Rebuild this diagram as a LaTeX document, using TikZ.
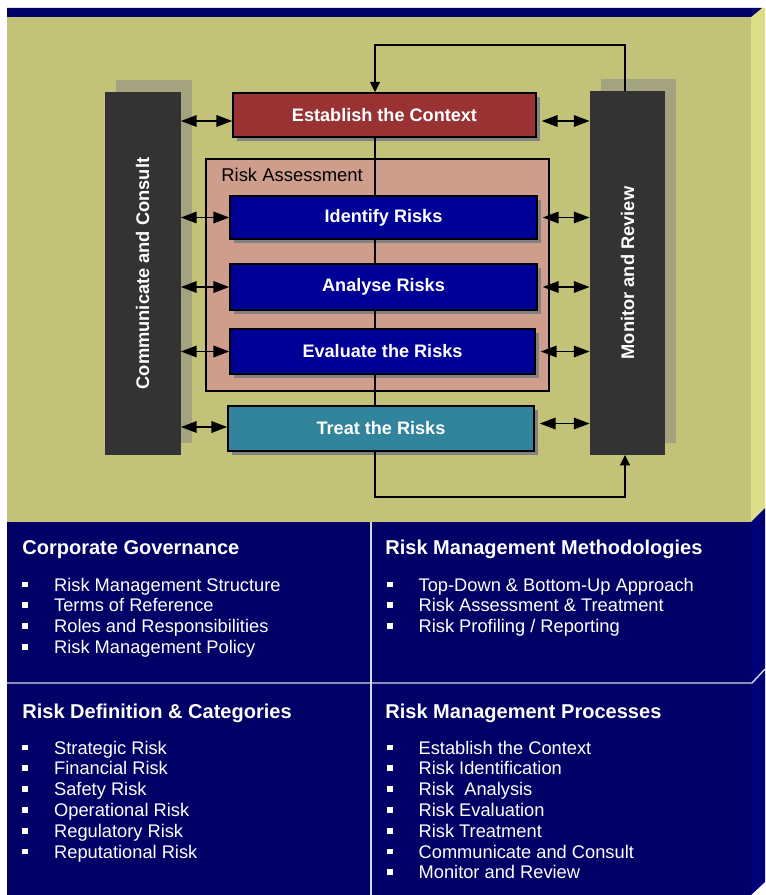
\documentclass[tikz,border=0pt]{standalone}
\usepackage{fontspec}
\setmainfont{Liberation Sans}
\usetikzlibrary{arrows.meta,shadows}
\newlength\pxu \setlength\pxu{0.02cm}
\definecolor{cOlive}{RGB}{194,194,120}
\definecolor{cOliveSide}{RGB}{222,222,136}
\definecolor{cNavy}{RGB}{0,0,102}
\definecolor{cNavySide}{RGB}{0,0,120}
\definecolor{cBar}{RGB}{51,51,51}
\definecolor{cBarSh}{RGB}{163,163,128}
\definecolor{cRed}{RGB}{153,51,51}
\definecolor{cBlue}{RGB}{0,0,150}
\definecolor{cTeal}{RGB}{49,132,155}
\definecolor{cSalmon}{RGB}{206,157,140}
\definecolor{cShadow}{RGB}{130,130,130}
\definecolor{cDivider}{RGB}{215,215,230}
\newcommand\bul{\makebox[18.1pt][l]{\raisebox{2.1pt}{\rule{3.3pt}{3.3pt}}}}
\begin{document}
\begin{tikzpicture}[x=0.02cm,y=-0.02cm,
  box/.style={draw=black,line width=0.8pt,inner sep=0pt,text=white,
    font=\fontsize{10.3}{12}\selectfont\bfseries,
    drop shadow={shadow xshift=4\pxu,shadow yshift=-4\pxu,fill=cShadow,opacity=1}},
  bar/.style={fill=cBar,inner sep=0pt,minimum width=76\pxu,minimum height=363\pxu,
    drop shadow={shadow xshift=11\pxu,shadow yshift=12\pxu,fill=cBarSh,opacity=1}},
  bartext/.style={rotate=90,text=white,inner sep=0pt,font=\fontsize{10.4}{12}\selectfont\bfseries},
  conn/.style={line width=1.1pt,black},
  loop/.style={conn,-{Triangle[length=6pt,width=5.5pt]}},
  darr/.style={conn,{Triangle[length=9pt,width=6.5pt]}-{Triangle[length=9pt,width=6.5pt]}},
  divider/.style={draw=cDivider,line width=0.8pt},
  head/.style={anchor=base west,inner sep=0pt,text=white,font=\fontsize{11.4}{13}\selectfont\bfseries},
  item/.style={anchor=base west,inner sep=0pt,text=white,font=\fontsize{10.4}{12}\selectfont},
]
\useasboundingbox (0,0) rectangle (765,895);
% backgrounds
\fill[cOlive] (7,17) rectangle (751,522);
\fill[cOliveSide] (751,17) -- (762,8) -- (765,8) -- (765,508) -- (751,522) -- cycle;
\fill[cNavy] (7,8) -- (762,8) -- (751,17) -- (7,17) -- cycle;
\fill[cNavy] (7,522) rectangle (751,895);
\fill[cNavySide] (751,522) -- (765,508) -- (765,882) -- (751,895) -- cycle;
\draw[divider] (371,522) -- (371,895);
\draw[divider] (7,683) -- (752,683) -- (765,669);

% side bars
\node[bar] (cc) at (142.5,273.5) {};
\node[bar,minimum width=75\pxu] (mr) at (627.5,273) {};
\node[bartext] (cct) at (cc.center) {Communicate and Consult};
\node[bartext] (mrt) at (mr.center) {Monitor and Review};

% risk assessment frame
\node[draw=black,line width=0.8pt,fill=cSalmon,inner sep=0pt,
  minimum width=343\pxu,minimum height=232\pxu] (ra) at (377.5,275) {};
\node[anchor=base west,inner sep=0pt,font=\fontsize{10.5}{12}\selectfont] (ral) at (221,182) {Risk Assessment};

% process boxes
\node[box,fill=cRed,minimum width=303\pxu,minimum height=44\pxu] (est) at (384.5,115) {Establish the Context};
\node[box,fill=cBlue,minimum width=307\pxu,minimum height=43\pxu] (idf) at (383.5,217.5) {Identify Risks};
\node[box,fill=cBlue,minimum width=307\pxu,minimum height=46\pxu] (ana) at (383.5,287) {Analyse Risks};
\node[box,fill=cBlue,minimum width=305\pxu,minimum height=45\pxu] (eva) at (382.5,351.5) {Evaluate the Risks};
\node[box,fill=cTeal,minimum width=306\pxu,minimum height=45\pxu] (trt) at (381,428.5) {Treat the Risks};

% spine
\coordinate (ltop) at (375,45);
\coordinate (rtop) at (625,45);
\coordinate (lbot) at (375,497);
\coordinate (rbot) at (625,497);
\draw[conn] (est.south -| ltop) -- (idf.north -| ltop);
\draw[conn] (idf.south -| ltop) -- (ana.north -| ltop);
\draw[conn] (ana.south -| ltop) -- (eva.north -| ltop);
\draw[conn] (eva.south -| ltop) -- (trt.north -| ltop);

% feedback loops
\draw[loop] (mr.north -| rtop) -- (rtop) -- (ltop) -- (est.north -| ltop);
\draw[loop] (trt.south -| lbot) -- (lbot) -- (rbot) -- (mr.south -| rbot);

% double arrows
\draw[darr] ([yshift=-6\pxu]cc.east |- est.west) -- ([yshift=-6\pxu]est.west);
\draw[darr] ([xshift=5\pxu,yshift=-6\pxu]est.east) -- ([yshift=-6\pxu]mr.west |- est.east);
\foreach \n in {idf,ana,eva}{
  \draw[darr] (cc.east |- \n.west) -- (\n.west);
  \draw[darr] ([xshift=5\pxu]\n.east) -- (mr.west |- \n.east);
}
\draw[darr] ([yshift=1.5\pxu]cc.east |- trt.west) -- ([yshift=1.5\pxu]trt.west);
\draw[darr] ([xshift=5\pxu,yshift=5\pxu]trt.east) -- ([yshift=5\pxu]mr.west |- trt.east);

% bottom panels
\node[head] (h1) at (22,554) {Corporate Governance};
\node[head] (h2) at (385,554) {Risk Management Methodologies};
\node[head] (h3) at (22,718) {Risk Definition \& Categories};
\node[head] (h4) at (385,718) {Risk Management Processes};

\foreach \t [count=\i] in {Risk Management Structure,Terms of Reference,Roles and Responsibilities,Risk Management Policy}
  \node[item] (cg\i) at (22,{570.25+20.75*\i}) {\bul\t};
\foreach \t [count=\i] in {Top-Down \& Bottom-Up Approach,Risk Assessment \& Treatment,Risk Profiling / Reporting}
  \node[item] (rm\i) at (386.5,{570.25+20.75*\i}) {\bul\t};
\foreach \t [count=\i] in {Strategic Risk,Financial Risk,Safety Risk,Operational Risk,Regulatory Risk,Reputational Risk}
  \node[item] (rd\i) at (22,{733.2+20.8*\i}) {\bul\t};
\foreach \t [count=\i] in {Establish the Context,Risk Identification,Risk\ \ Analysis,Risk Evaluation,Risk Treatment,Communicate and Consult,Monitor and Review}
  \node[item] (rp\i) at (386.5,{733.2+20.8*\i}) {\bul\t};
\end{tikzpicture}
\end{document}
